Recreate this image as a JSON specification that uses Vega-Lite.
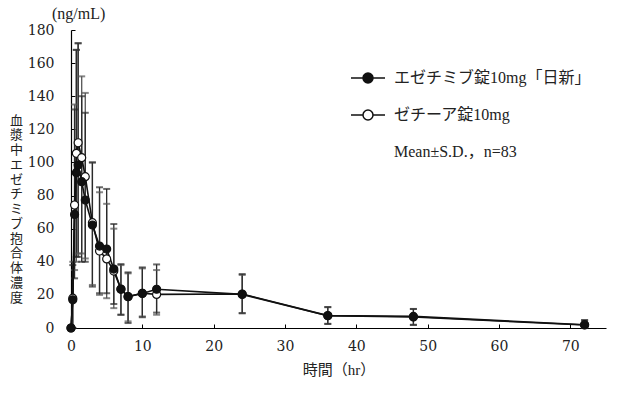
{
  "$schema": "https://vega.github.io/schema/vega-lite/v6.json",
  "autosize": {"type": "none"},
  "width": 535,
  "height": 298,
  "padding": {"left": 71, "top": 30, "right": 14, "bottom": 67},
  "background": "white",
  "config": {
    "view": {"stroke": null},
    "font": "Liberation Serif, Noto Sans CJK JP",
    "axis": {"grid": false, "domainColor": "#000", "tickColor": "#000", "labelColor": "#222", "titleColor": "#222", "labelFont": "DejaVu Serif", "titleFont": "Liberation Serif, Noto Sans CJK JP", "labelFontSize": 14, "titleFontSize": 15, "titleFontWeight": "normal", "domainWidth": 1.2, "labelOverlap": false, "labelFlush": false},
    "axisY": {"tickCount": 10, "labelOverlap": false, "tickSize": -4, "labelPadding": 21, "titleAngle": 0, "titleLineHeight": 14.75, "titleX": -55, "titleY": 90, "titleBaseline": "middle", "titleAlign": "center", "titleFont": "Noto Sans CJK JP", "titleFontSize": 13}
  },
  "title": {"text": "(ng/mL)", "anchor": "start", "frame": "group", "dx": -19, "offset": 1, "fontSize": 16, "fontWeight": "normal", "font": "Liberation Serif", "color": "#222"},
  "data": {"values": [
    {"series": "ゼチーア錠10mg", "t": 0, "m": 0, "lo": 0, "hi": 0},
    {"series": "ゼチーア錠10mg", "t": 0.25, "m": 18, "lo": 0, "hi": 40},
    {"series": "ゼチーア錠10mg", "t": 0.5, "m": 74.3, "lo": 35, "hi": 135},
    {"series": "ゼチーア錠10mg", "t": 0.75, "m": 105.5, "lo": 40, "hi": 168},
    {"series": "ゼチーア錠10mg", "t": 1, "m": 111.9, "lo": 45, "hi": 172},
    {"series": "ゼチーア錠10mg", "t": 1.5, "m": 102.9, "lo": 45, "hi": 152},
    {"series": "ゼチーア錠10mg", "t": 2, "m": 91.4, "lo": 42, "hi": 142},
    {"series": "ゼチーア錠10mg", "t": 3, "m": 63.6, "lo": 26, "hi": 100},
    {"series": "ゼチーア錠10mg", "t": 4, "m": 46.5, "lo": 20, "hi": 82},
    {"series": "ゼチーア錠10mg", "t": 5, "m": 41.7, "lo": 18, "hi": 75},
    {"series": "ゼチーア錠10mg", "t": 6, "m": 34.4, "lo": 12, "hi": 60},
    {"series": "ゼチーア錠10mg", "t": 7, "m": 23.5, "lo": 8, "hi": 38},
    {"series": "ゼチーア錠10mg", "t": 8, "m": 19, "lo": 4, "hi": 33},
    {"series": "ゼチーア錠10mg", "t": 10, "m": 21, "lo": 7, "hi": 36},
    {"series": "ゼチーア錠10mg", "t": 12, "m": 20.3, "lo": 8, "hi": 35},
    {"series": "ゼチーア錠10mg", "t": 24, "m": 20.5, "lo": 9, "hi": 32},
    {"series": "ゼチーア錠10mg", "t": 36, "m": 7.5, "lo": 2.5, "hi": 12.5},
    {"series": "ゼチーア錠10mg", "t": 48, "m": 7, "lo": 2, "hi": 11.5},
    {"series": "ゼチーア錠10mg", "t": 72, "m": 2, "lo": 0, "hi": 4.5},
    {"series": "エゼチミブ錠10mg「日新」", "t": 0, "m": 0, "lo": 0, "hi": 0},
    {"series": "エゼチミブ錠10mg「日新」", "t": 0.25, "m": 17, "lo": 0, "hi": 38},
    {"series": "エゼチミブ錠10mg「日新」", "t": 0.5, "m": 68.6, "lo": 30, "hi": 132},
    {"series": "エゼチミブ錠10mg「日新」", "t": 0.75, "m": 93.8, "lo": 43, "hi": 168},
    {"series": "エゼチミブ錠10mg「日新」", "t": 1, "m": 98.4, "lo": 43, "hi": 172},
    {"series": "エゼチミブ錠10mg「日新」", "t": 1.5, "m": 88.4, "lo": 40, "hi": 140},
    {"series": "エゼチミブ錠10mg「日新」", "t": 2, "m": 77.3, "lo": 40, "hi": 130},
    {"series": "エゼチミブ錠10mg「日新」", "t": 3, "m": 62.2, "lo": 25, "hi": 100},
    {"series": "エゼチミブ錠10mg「日新」", "t": 4, "m": 49.5, "lo": 21, "hi": 85},
    {"series": "エゼチミブ錠10mg「日新」", "t": 5, "m": 47.7, "lo": 21, "hi": 84},
    {"series": "エゼチミブ錠10mg「日新」", "t": 6, "m": 35.6, "lo": 14.5, "hi": 62.8},
    {"series": "エゼチミブ錠10mg「日新」", "t": 7, "m": 23.4, "lo": 8, "hi": 38.6},
    {"series": "エゼチミブ錠10mg「日新」", "t": 8, "m": 18.9, "lo": 3, "hi": 33.6},
    {"series": "エゼチミブ錠10mg「日新」", "t": 10, "m": 20.9, "lo": 6.5, "hi": 36.6},
    {"series": "エゼチミブ錠10mg「日新」", "t": 12, "m": 23.4, "lo": 9.3, "hi": 38.4},
    {"series": "エゼチミブ錠10mg「日新」", "t": 24, "m": 20.3, "lo": 8.9, "hi": 32.6},
    {"series": "エゼチミブ錠10mg「日新」", "t": 36, "m": 7.4, "lo": 2.4, "hi": 12.7},
    {"series": "エゼチミブ錠10mg「日新」", "t": 48, "m": 6.6, "lo": 1.8, "hi": 11.5},
    {"series": "エゼチミブ錠10mg「日新」", "t": 72, "m": 1.8, "lo": 0, "hi": 4.8}
  ]},
  "encoding": {
    "x": {"field": "t", "type": "quantitative", "scale": {"domain": [0, 75], "nice": false},
      "axis": {"values": [0, 10, 20, 30, 40, 50, 60, 70], "tickSize": -4, "labelPadding": 15, "title": "時間（hr）", "titlePadding": 9}}
  },
  "layer": [
    {
      "mark": {"type": "rule", "strokeWidth": 1.3},
      "encoding": {
        "y": {"field": "lo", "type": "quantitative", "scale": {"domain": [0, 180], "nice": false},
          "axis": {"values": [0, 20, 40, 60, 80, 100, 120, 140, 160, 180], "labelOverlap": false,
            "title": ["血", "漿", "中", "エ", "ゼ", "チ", "ミ", "ブ", "抱", "合", "体", "濃", "度"]}},
        "y2": {"field": "hi"},
        "color": {"field": "series", "type": "nominal", "scale": {"domain": ["エゼチミブ錠10mg「日新」", "ゼチーア錠10mg"], "range": ["#2a2a2a", "#555555"]}, "legend": null}
      }
    },
    {
      "mark": {"type": "tick", "orient": "horizontal", "size": 7, "thickness": 2},
      "encoding": {
        "y": {"field": "hi", "type": "quantitative", "axis": {"values": [0, 20, 40, 60, 80, 100, 120, 140, 160, 180], "labelOverlap": false,
            "title": ["血", "漿", "中", "エ", "ゼ", "チ", "ミ", "ブ", "抱", "合", "体", "濃", "度"]}},
        "color": {"field": "series", "type": "nominal", "legend": null}
      }
    },
    {
      "mark": {"type": "tick", "orient": "horizontal", "size": 7, "thickness": 2},
      "encoding": {
        "y": {"field": "lo", "type": "quantitative", "axis": {"values": [0, 20, 40, 60, 80, 100, 120, 140, 160, 180], "labelOverlap": false,
            "title": ["血", "漿", "中", "エ", "ゼ", "チ", "ミ", "ブ", "抱", "合", "体", "濃", "度"]}},
        "color": {"field": "series", "type": "nominal", "legend": null}
      }
    },
    {
      "mark": {"type": "line", "color": "#111", "strokeWidth": 1.6},
      "encoding": {
        "y": {"field": "m", "type": "quantitative", "axis": {"values": [0, 20, 40, 60, 80, 100, 120, 140, 160, 180], "labelOverlap": false,
            "title": ["血", "漿", "中", "エ", "ゼ", "チ", "ミ", "ブ", "抱", "合", "体", "濃", "度"]}},
        "detail": {"field": "series"}
      }
    },
    {
      "mark": {"type": "point", "filled": false, "strokeWidth": 1.2, "size": 64, "opacity": 1, "shape": "circle"},
      "encoding": {
        "y": {"field": "m", "type": "quantitative", "axis": {"values": [0, 20, 40, 60, 80, 100, 120, 140, 160, 180], "labelOverlap": false,
            "title": ["血", "漿", "中", "エ", "ゼ", "チ", "ミ", "ブ", "抱", "合", "体", "濃", "度"]}},
        "fill": {"field": "series", "type": "nominal",
          "scale": {"domain": ["エゼチミブ錠10mg「日新」", "ゼチーア錠10mg", "\u2003\u2009Mean±S.D.，n=83"], "range": ["#111111", "#ffffff", "transparent"]},
          "legend": {"title": null, "orient": "none", "legendX": 289, "legendY": 40, "symbolType": "M-3.4,0H-1M1,0H3.4M1,0A1,1,0,1,1,-1,0A1,1,0,1,1,1,0", "symbolSize": 100, "symbolStrokeWidth": 1.5, "labelOffset": 18, "labelFontSize": 16, "labelFont": "Liberation Serif, Noto Sans CJK JP", "labelColor": "#222", "rowPadding": 21, "labelLimit": 300}},
        "stroke": {"field": "series", "type": "nominal",
          "scale": {"domain": ["エゼチミブ錠10mg「日新」", "ゼチーア錠10mg", "\u2003\u2009Mean±S.D.，n=83"], "range": ["#111111", "#111111", "transparent"]}}
      }
    }
  ]
}
